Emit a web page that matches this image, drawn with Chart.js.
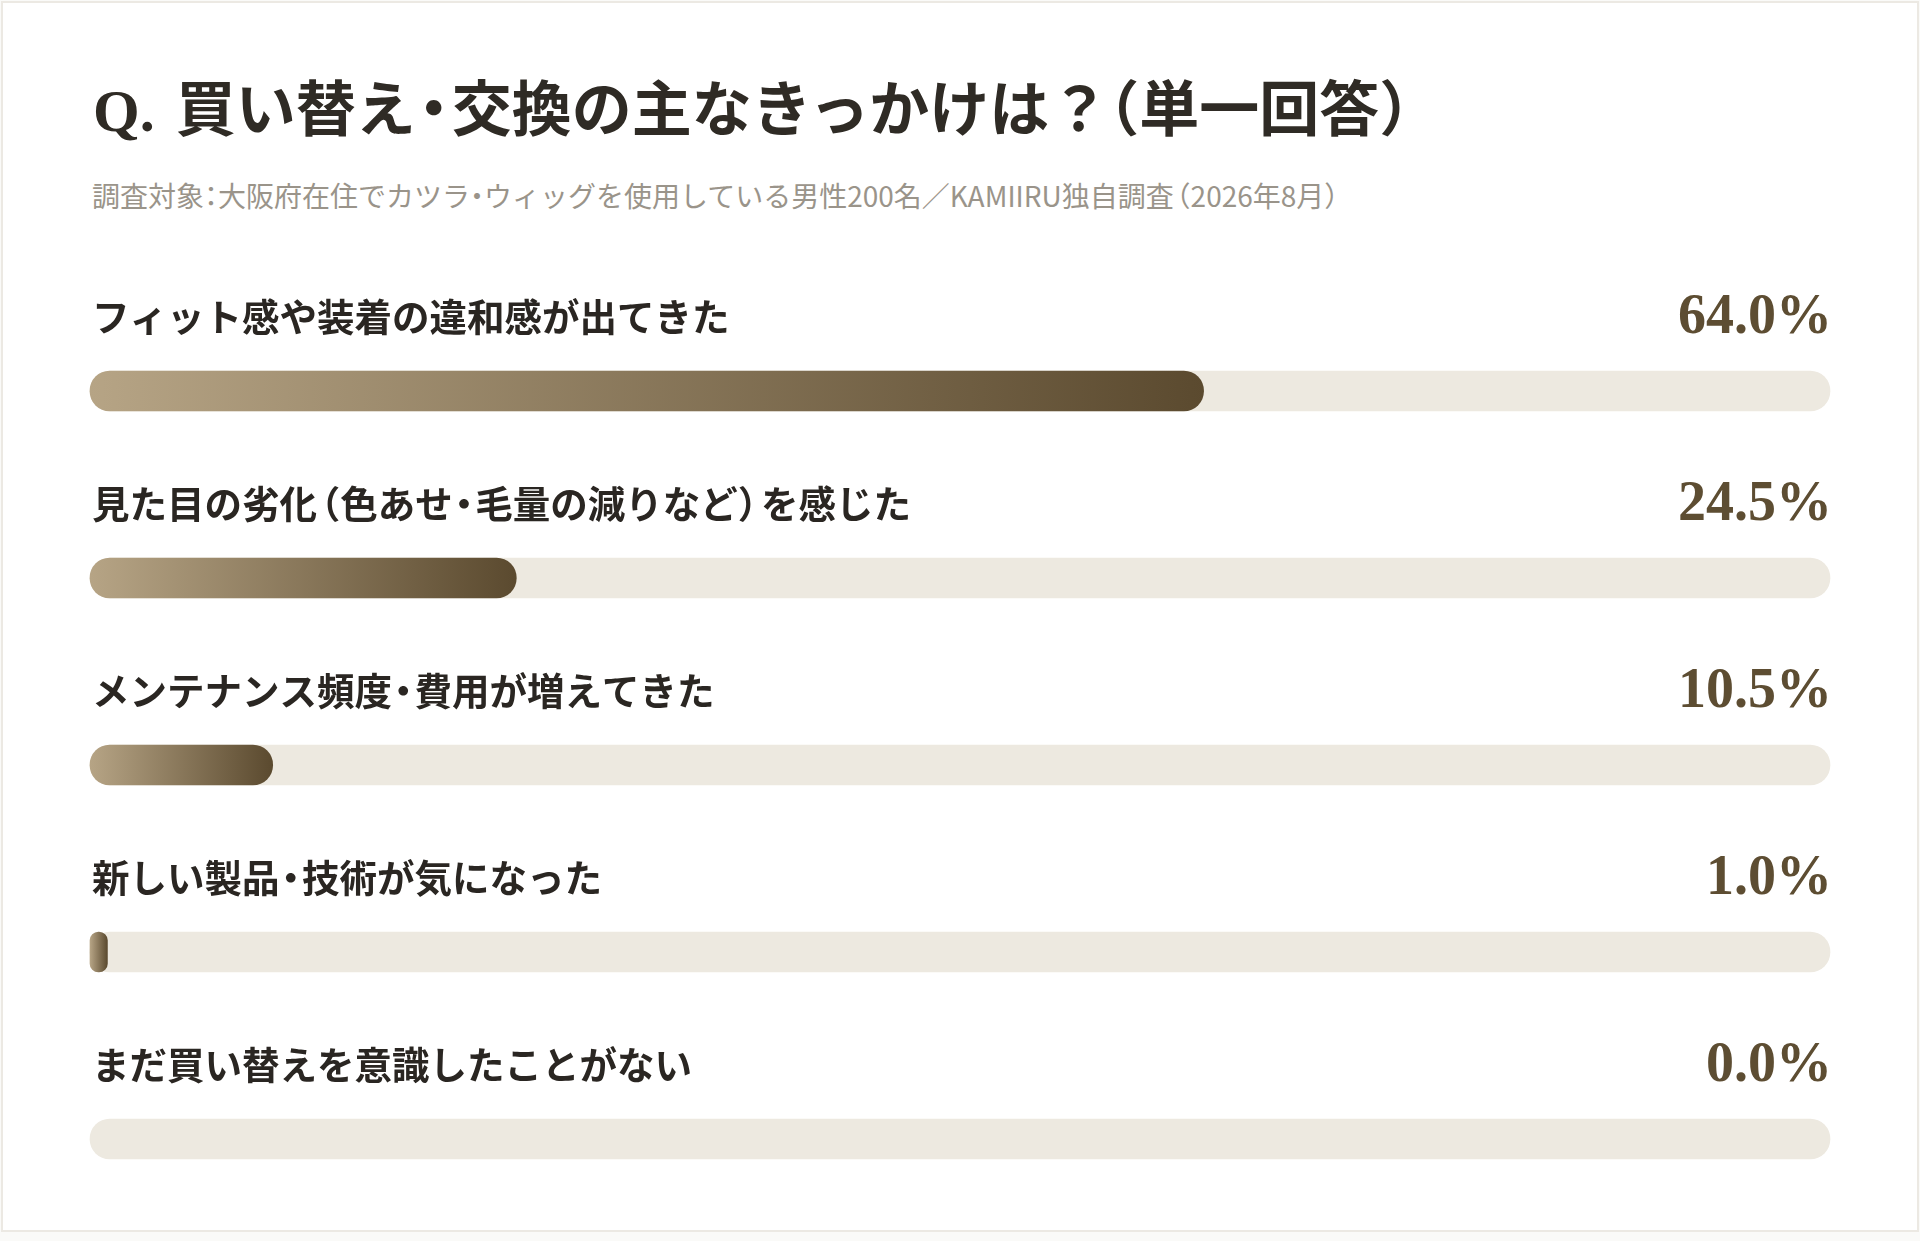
<!doctype html>
<html lang="ja">
<head>
  <meta charset="utf-8">
  <meta name="viewport" content="width=device-width, initial-scale=1">
  <title>Q. 買い替え・交換の主なきっかけは？（単一回答）</title>
  <style>
    * {
      margin: 0;
      padding: 0;
      box-sizing: border-box;
    }
    body {
      width: 1920px;
      height: 1241px;
      background: #fafaf8;
      position: relative;
      overflow: hidden;
    }
    .card {
      position: absolute;
      left: 1px;
      top: 1px;
      width: 1918px;
      height: 1231px;
      background: #ffffff;
      border: 2px solid #ece9e3;
    }
    .title {
      position: absolute;
      left: 93px;
      top: 81px;
      font-family: 'Liberation Serif', 'Noto Sans CJK JP', serif;
      font-weight: 700;
      font-size: 60px;
      line-height: 60px;
      color: #2f2b25;
      white-space: nowrap;
    }
    .title .q { margin-right: 6px; }
    .title .dot { margin: 0 -0.2em; }
    .title .qm { margin-right: -0.15em; }
    .title .lp { margin-left: -0.35em; }
    .subtitle {
      position: absolute;
      left: 92px;
      top: 181px;
      font-family: 'Noto Sans CJK JP', sans-serif;
      font-size: 28px;
      line-height: 28px;
      color: #9a948a;
      white-space: nowrap;
    }
    .subtitle .dot { margin: 0 -0.25em; }
    .subtitle .lp { margin-left: -0.4em; }
    .subtitle .rp { margin-right: -0.4em; }
    .chartBox {
      position: absolute;
      left: 0;
      top: 0;
      width: 1920px;
      height: 1241px;
    }
  </style>
</head>
<body>
  <div class="card"></div>
  <div class="title"><span class="q">Q.</span> 買い替え<span class="dot">・</span>交換の主なきっかけは<span class="qm">？</span><span class="lp">（</span>単一回答）</div>
  <div class="subtitle">調査対象<span class="dot">：</span>大阪府在住でカツラ<span class="dot">・</span>ウィッグを使用している男性200名／KAMIIRU独自調査<span class="lp">（</span>2026年8月<span class="rp">）</span></div>
  <div class="chartBox">
    <canvas id="myChart"></canvas>
  </div>

  <script src="https://cdn.jsdelivr.net/npm/chart.js@4"></script>
  <script>
    // data
    const categories = [
      'フィット感や装着の違和感が出てきた',
      '見た目の劣化（色あせ・毛量の減りなど）を感じた',
      'メンテナンス頻度・費用が増えてきた',
      '新しい製品・技術が気になった',
      'まだ買い替えを意識したことがない'
    ];
    const values = [64.0, 24.5, 10.5, 1.0, 0.0];
    const trackValues = [100, 100, 100, 100, 100];

    // colours
    const gradLight = '#b6a485';
    const gradDark = '#5b4a2f';
    const trackColor = '#ede9e0';

    // gradient per bar, from the left end of the scale to the end of the bar
    function barGradient(context) {
      const chart = context.chart;
      if (!chart.chartArea) return gradDark;
      const xs = chart.scales.x;
      const x0 = xs.getPixelForValue(0);
      const x1 = xs.getPixelForValue(values[context.dataIndex]);
      if (x1 - x0 < 1) return 'rgba(0,0,0,0)';
      if (x1 - x0 < 2) return gradLight;
      const g = chart.ctx.createLinearGradient(x0, 0, x1, 0);
      g.addColorStop(0, gradLight);
      g.addColorStop(1, gradDark);
      return g;
    }

    // draw text with narrower brackets and middle dots (like palt)
    function drawTight(ctx, text, x, y, size) {
      for (const ch of text) {
        if (ch === '（') {
          ctx.fillText(ch, x - size * 0.38, y);
          x += size * 0.62;
        } else if (ch === '）') {
          ctx.fillText(ch, x, y);
          x += size * 0.62;
        } else if (ch === '・') {
          ctx.fillText(ch, x - size * 0.2, y);
          x += size * 0.6;
        } else {
          ctx.fillText(ch, x, y);
          x += ctx.measureText(ch).width;
        }
      }
    }

    // labels above the bars and percentages at the right
    const rowText = {
      id: 'rowText',
      afterDatasetsDraw(chart) {
        const ctx = chart.ctx;
        const ys = chart.scales.y;
        const area = chart.chartArea;
        ctx.save();
        categories.forEach((cat, i) => {
          const y = ys.getPixelForValue(i);
          ctx.fillStyle = '#2a2622';
          ctx.font = '700 37.5px "Noto Sans CJK JP", sans-serif';
          ctx.textAlign = 'left';
          ctx.textBaseline = 'middle';
          drawTight(ctx, cat, area.left + 2, y - 74, 37.5);

          ctx.fillStyle = '#5d4d32';
          ctx.font = '700 56px "Liberation Serif", serif';
          ctx.textAlign = 'right';
          ctx.textBaseline = 'alphabetic';
          ctx.fillText(values[i].toFixed(1) + '%', area.right + 2, y - 58);
        });
        ctx.restore();
      }
    };

    const data = {
      labels: categories,
      datasets: [
        {
          label: '回答率',
          data: values,
          backgroundColor: barGradient,
          borderRadius: 20,
          borderSkipped: false,
          barThickness: 40,
          grouped: false,
          clip: false,
          order: 0
        },
        {
          label: 'track',
          data: trackValues,
          backgroundColor: trackColor,
          borderRadius: 20,
          borderSkipped: false,
          barThickness: 40,
          grouped: false,
          clip: false,
          order: 1
        }
      ]
    };

    const config = {
      type: 'bar',
      data,
      options: {
        indexAxis: 'y',
        responsive: true,
        maintainAspectRatio: false,
        animation: false,
        layout: {
          padding: { left: 90, right: 90, top: 391, bottom: 102 }
        },
        scales: {
          x: { min: 0, max: 100, display: false },
          y: { display: false, offset: false }
        },
        plugins: {
          legend: { display: false },
          tooltip: { enabled: false },
          title: { display: false }
        }
      },
      plugins: [rowText]
    };

    const myChart = new Chart(document.getElementById('myChart'), config);
  </script>
</body>
</html>
